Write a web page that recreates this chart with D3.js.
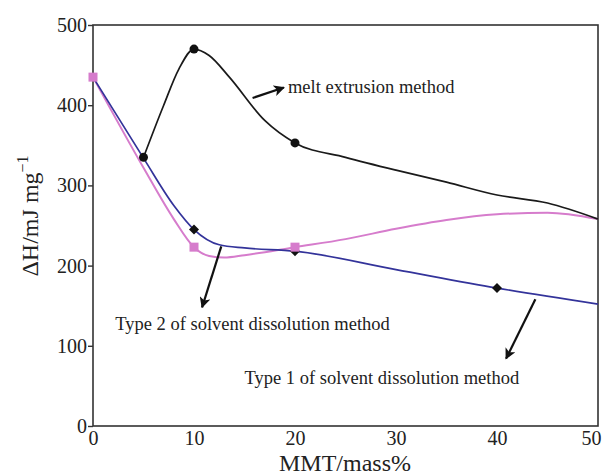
<!DOCTYPE html>
<html>
<head>
<meta charset="utf-8">
<script src="https://cdn.jsdelivr.net/npm/d3@7"></script>
<style>
  body { margin: 0; background: #fff; }
  svg text { font-family: "Liberation Serif", "DejaVu Serif", serif; fill: #222; }
</style>
</head>
<body>
<div id="chart"></div>
<script>
// data (x = MMT mass%, y = ΔH in mJ/mg)
const meltX = [5, 7, 8.5, 10, 11.5, 13.5, 17, 20, 25, 30, 35, 40, 45, 50];
const meltY = [335, 400, 445, 470, 462, 435, 381, 353, 335, 319, 304, 288, 278, 258];
const meltMarks = [5, 10, 20];

const type1X = [0, 5, 8, 10, 12.5, 15, 20, 30, 40, 50];
const type1Y = [435, 334, 275, 245, 226, 222, 218, 195, 172, 152];
const type1Marks = [10, 20, 40];

const type2X = [0, 5, 8, 10, 11.5, 13, 15, 20, 25, 30, 35, 40, 45, 50];
const type2Y = [435, 322, 258, 223, 212, 210, 213, 223, 233, 246, 257, 264, 266, 258];
const type2Marks = [0, 10, 20];

const xTicks = [0, 10, 20, 30, 40, 50];
const yTicks = [0, 100, 200, 300, 400, 500];

// page setup
const width = 602;
const height = 476;
const margin = { top: 25, right: 4, bottom: 50, left: 93 };

const svg = d3.select("#chart")
    .append("svg")
    .attr("width", width)
    .attr("height", height);

const x = d3.scaleLinear().domain([0, 50]).range([margin.left, width - margin.right]);
const y = d3.scaleLinear().domain([0, 500]).range([height - margin.bottom, margin.top]);

const toPoints = (xs, ys) => xs.map((v, i) => [v, ys[i]]);
const line = d3.line()
    .x(d => x(d[0]))
    .y(d => y(d[1]))
    .curve(d3.curveMonotoneX);

// plot frame
svg.append("rect")
    .attr("x", x(0))
    .attr("y", y(500))
    .attr("width", x(50) - x(0))
    .attr("height", y(0) - y(500))
    .attr("fill", "none")
    .attr("stroke", "#333")
    .attr("stroke-width", 1.6);

// y axis with small outward ticks
const yAxis = svg.append("g")
    .attr("transform", `translate(${x(0)},0)`)
    .call(d3.axisLeft(y).tickValues(yTicks).tickSize(5).tickPadding(1));
yAxis.select(".domain").remove();
yAxis.selectAll("line").attr("stroke", "#333").attr("stroke-width", 1.4);
yAxis.selectAll("text")
    .attr("font-size", "20px")
    .attr("font-family", "Liberation Serif")
    .attr("fill", "#333");

// x axis labels only
const xAxis = svg.append("g")
    .attr("transform", `translate(0,${y(0)})`)
    .call(d3.axisBottom(x).tickValues(xTicks).tickSize(0).tickPadding(5));
xAxis.select(".domain").remove();
xAxis.selectAll("text")
    .attr("font-size", "20px")
    .attr("font-family", "Liberation Serif")
    .attr("fill", "#333");
// last label sits a little inside the right edge, as in the original
xAxis.selectAll(".tick").filter(d => d === 50).select("text").attr("dx", -7);

// axis titles
svg.append("text")
    .attr("x", 345)
    .attr("y", 471)
    .attr("text-anchor", "middle")
    .attr("font-size", "24px")
    .text("MMT/mass%");

const yTitle = svg.append("text")
    .attr("transform", "translate(38,216) rotate(-90)")
    .attr("text-anchor", "middle")
    .attr("font-size", "24px");
yTitle.append("tspan").text("\u0394H/mJ mg");
yTitle.append("tspan").attr("dy", -10).attr("font-size", "16px").text("\u22121");

// curves
svg.append("path")
    .attr("d", line(toPoints(type2X, type2Y)))
    .attr("fill", "none")
    .attr("stroke", "#d67ccc")
    .attr("stroke-width", 2);

svg.append("path")
    .attr("d", line(toPoints(type1X, type1Y)))
    .attr("fill", "none")
    .attr("stroke", "#33339a")
    .attr("stroke-width", 1.7);

svg.append("path")
    .attr("d", line(toPoints(meltX, meltY)))
    .attr("fill", "none")
    .attr("stroke", "#1a1a1a")
    .attr("stroke-width", 1.7);

// markers
const valueAt = (xs, ys, v) => ys[xs.indexOf(v)];

svg.selectAll(".dia")
    .data(type1Marks)
    .enter()
    .append("path")
    .attr("d", "M0,-5 L5,0 L0,5 L-5,0 Z")
    .attr("transform", d => `translate(${x(d)},${y(valueAt(type1X, type1Y, d))})`)
    .attr("fill", "#111");

svg.selectAll(".sq")
    .data(type2Marks)
    .enter()
    .append("rect")
    .attr("x", d => x(d) - 4.5)
    .attr("y", d => y(valueAt(type2X, type2Y, d)) - 4.5)
    .attr("width", 9)
    .attr("height", 9)
    .attr("fill", "#d67ccc");

svg.selectAll(".dot")
    .data(meltMarks)
    .enter()
    .append("circle")
    .attr("cx", d => x(d))
    .attr("cy", d => y(valueAt(meltX, meltY, d)))
    .attr("r", 4.5)
    .attr("fill", "#111");

// annotations: arrows and labels
svg.append("defs").append("marker")
    .attr("id", "head")
    .attr("viewBox", "0 0 10 10")
    .attr("refX", 9)
    .attr("refY", 5)
    .attr("markerWidth", 5)
    .attr("markerHeight", 5)
    .attr("orient", "auto")
    .append("path")
    .attr("d", "M0,0 L10,5 L0,10 L2.5,5 Z")
    .attr("fill", "#111");

const arrows = [
    { x1: 15.8, y1: 409, x2: 18.9, y2: 422 },
    { x1: 12.7, y1: 224, x2: 10.8, y2: 148 },
    { x1: 43.8, y1: 158, x2: 40.9, y2: 84 }
];

svg.selectAll(".arrow")
    .data(arrows)
    .enter()
    .append("line")
    .attr("x1", d => x(d.x1))
    .attr("y1", d => y(d.y1))
    .attr("x2", d => x(d.x2))
    .attr("y2", d => y(d.y2))
    .attr("stroke", "#111")
    .attr("stroke-width", 2.2)
    .attr("marker-end", "url(#head)");

const labels = [
    { x: 19.3, y: 415, text: "melt extrusion method" },
    { x: 2.2, y: 120, text: "Type 2 of solvent dissolution method" },
    { x: 15.0, y: 52, text: "Type 1 of solvent dissolution method" }
];

svg.selectAll(".label")
    .data(labels)
    .enter()
    .append("text")
    .attr("x", d => x(d.x))
    .attr("y", d => y(d.y))
    .attr("font-size", "18.5px")
    .text(d => d.text);
</script>
</body>
</html>
